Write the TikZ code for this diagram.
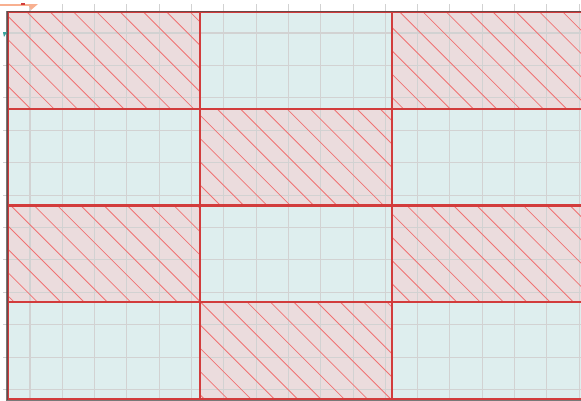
\documentclass[tikz,border=0pt]{standalone}
\usepackage{xcolor}
\usepackage{tikz}
\usetikzlibrary{arrows.meta}

\definecolor{hatchfill}{HTML}{EBDCDD}
\definecolor{tealfill}{HTML}{DEEEEE}
\definecolor{hatchred}{HTML}{F07272}
\definecolor{borderred}{HTML}{D23C3C}
\definecolor{gridgray}{HTML}{D2D2D2}
\definecolor{axisorange}{HTML}{F8B090}
\definecolor{axisteal}{HTML}{3AA8A0}

\begin{document}
\begin{tikzpicture}[
  x=0.035cm, y=-0.035cm,
  gridline/.style={draw=gridgray, line width=1pt},
  hatchline/.style={draw=hatchred, line width=0.8pt},
  cellborder/.style={draw=borderred, line width=2pt},
  outerframe/.style={draw=black!70, line width=1pt, opacity=0.75},
]
\useasboundingbox (0,0) rectangle (581,401);

%% ── Cells (checkerboard) ─────────────────────────────────────────────────────
\foreach \c in {0,1,2} {
  \foreach \r in {0,1,2,3} {
    \pgfmathtruncatemacro\odd{mod(\c+\r,2)}
    \ifnum\odd=0 \def\clr{hatchfill}\else \def\clr{tealfill}\fi
    \fill[\clr] ({8+192*\c},{12+96.75*\r}) rectangle ++(192,96.75);
  }
}

%% ── Background grid ──────────────────────────────────────────────────────────
\foreach \i in {0,...,17}
  \draw[gridline] ({30+32.3*\i},4) -- ({30+32.3*\i},399);
\foreach \j in {0,...,11}
  \draw[gridline] (3,{33+32.4*\j}) -- (581,{33+32.4*\j});

%% ── Hatching of the red cells ────────────────────────────────────────────────
\begin{scope}
  \clip (8,12)        rectangle (200,108.75)
        (392,12)      rectangle (584,108.75)
        (200,108.75)  rectangle (392,205.5)
        (8,205.5)     rectangle (200,302.25)
        (392,205.5)   rectangle (584,302.25)
        (200,302.25)  rectangle (392,399);
  \foreach \k in {-17,...,24}
    \draw[hatchline] ({27+23.3*\k},12) -- ++(390,390);
\end{scope}

%% ── Cell borders ─────────────────────────────────────────────────────────────
\foreach \x in {8,200,392}
  \draw[cellborder] (\x,12) -- (\x,399);
\foreach \y in {12,108.75,205.5,302.25,399}
  \draw[cellborder] (7,\y) -- (584,\y);
\draw[outerframe] (581,11.5) -- (7,11.5) -- (7,400) -- (581,400);

%% ── Axis remnants (top left) ─────────────────────────────────────────────────
\draw[axisorange, line width=2pt] (0,5) -- (36,5);
\fill[axisorange] (28,4) -- (38,4) -- (31,10) -- cycle;
\draw[borderred, line width=1.5pt] (21,4) -- (25,4);
\fill[axisteal] (3,32) -- (7,32) -- (4,37) -- cycle;

\end{tikzpicture}
\end{document}
